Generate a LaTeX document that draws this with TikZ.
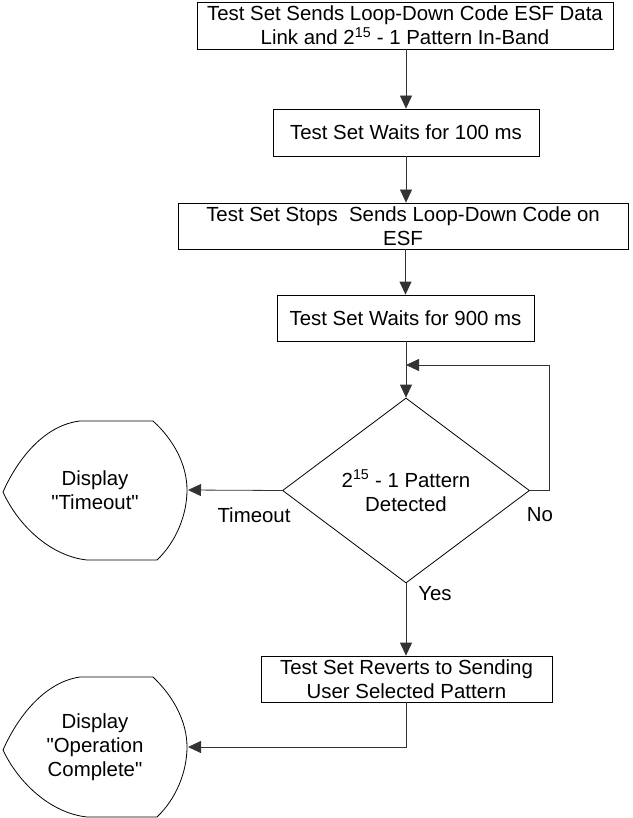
\documentclass[tikz,border=0pt]{standalone}
\usepackage{fontspec}
\setmainfont{Liberation Sans}[Ligatures=TeXOff]
\usetikzlibrary{arrows.meta,shapes.geometric,calc}
\newcommand{\qd}{{\char34}}
\begin{document}
\begin{tikzpicture}[x=1pt,y=-1pt,
  every node/.style={font=\fontsize{20.4}{24}\selectfont, inner sep=0pt, align=center},
  box/.style={draw, line width=0.8pt, rectangle},
  dec/.style={draw, line width=0.8pt, shape=diamond, aspect=1.335, minimum width=247pt, minimum height=185pt},
  conn/.style={line width=0.8pt, draw=black!80},
  arr/.style={conn, -{Triangle[length=13pt,width=12pt]}},
  lbl/.style={}
]
\useasboundingbox (0,0) rectangle (632,818);

\node[box, minimum width=416pt, minimum height=47pt] (b1) at (405,25.5)
  {Test Set Sends Loop-Down Code ESF Data\\Link and 2\textsuperscript{15} - 1 Pattern In-Band};
\node[box, minimum width=266pt, minimum height=47pt] (b2) at (406,132.5)
  {Test Set Waits for 100 ms};
\node[box, minimum width=450pt, minimum height=46pt] (b3) at (403,226)
  {Test Set Stops\ \ Sends Loop-Down Code on\\ESF};
\node[box, minimum width=257pt, minimum height=46pt] (b4) at (405.5,318)
  {Test Set Waits for 900 ms};
\node[dec] (d) at (406,490.5) {2\textsuperscript{15} - 1 Pattern\\Detected};
\node[box, minimum width=291pt, minimum height=46pt] (b5) at (406.5,679)
  {Test Set Reverts to Sending\\User Selected Pattern};

% display shapes
\node (t) at (95,490) {Display\\\qd Timeout\qd};
\draw[line width=0.8pt] (80,421) -- (153,421)
  .. controls (174,440) and (187,465) .. (187,490)
  .. controls (187,515) and (176,542) .. (157,560)
  -- (87,560)
  .. controls (50,556) and (18,525) .. (3,492)
  .. controls (18,458) and (45,425) .. (80,421) -- cycle;
\coordinate (tE) at (188,490);

\node (o) at (95,747) {Display\\\qd Operation\\Complete\qd};
\draw[line width=0.8pt] (80,677) -- (153,677)
  .. controls (174,697) and (187,722) .. (187,747)
  .. controls (187,772) and (176,799) .. (157,817)
  -- (87,817)
  .. controls (50,813) and (18,782) .. (3,750)
  .. controls (18,716) and (45,682) .. (80,677) -- cycle;
\coordinate (oE) at (188,747);

% connectors
\draw[arr] (b1.south -| b2.north) -- (b2.north);
\draw[arr] (b2.south) -- (b3.north -| b2.south);
\draw[arr] (b3.south -| b4.north) -- (b4.north);
\draw[arr] (b4.south -| d.north) -- (d.north);
\coordinate (lp) at (549,365);
\draw[arr] (d.east) -- (lp |- d.east) -- (lp) -- (lp -| d.north);
\draw[arr] (d.west) -- (tE);
\draw[arr] (d.south) -- (b5.north -| d.south);
\draw[arr] (b5.south -| d.south) -- (d.south |- oE) -- (oE);

\node[lbl] at (254,515) {Timeout};
\node[lbl] at (540,515) {No};
\node[lbl] at (435,594) {Yes};
\end{tikzpicture}
\end{document}
